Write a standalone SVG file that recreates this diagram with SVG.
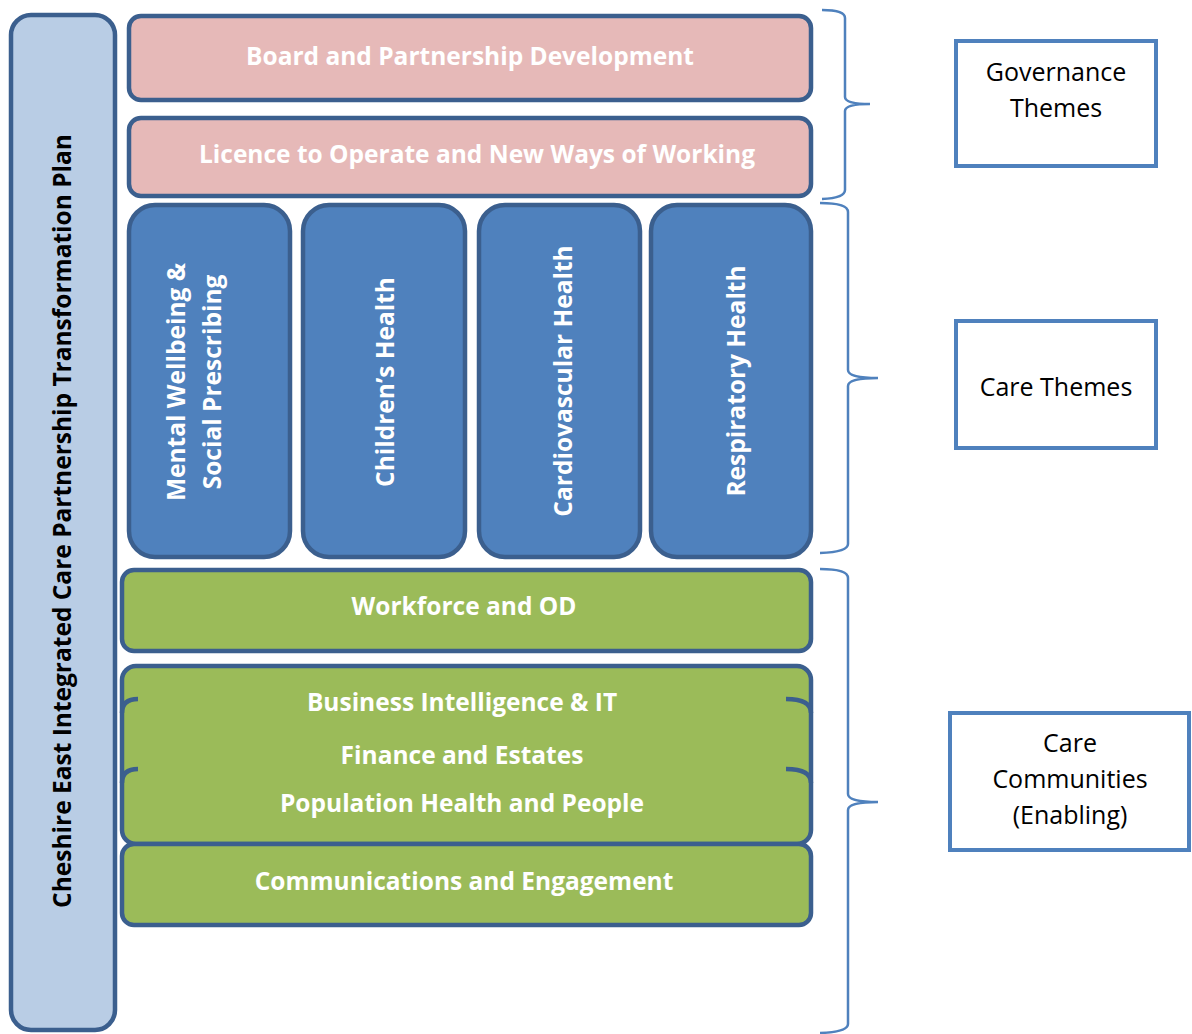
<svg xmlns="http://www.w3.org/2000/svg" width="1192" height="1034" viewBox="0 0 1192 1034">
  <style>
    .frame { stroke: #3B5F8E; stroke-width: 4.5; }
    .plan { fill: #B9CDE5; }
    .gov { fill: #E6B9B8; }
    .care { fill: #4F81BD; }
    .enab { fill: #9BBB59; }
    .lbl { font-family: "Open Sans", "Liberation Sans", sans-serif; font-weight: bold; font-size: 24.5px; fill: #FFFFFF; text-anchor: middle; }
    .vlbl { font-family: "Open Sans", "Liberation Sans", sans-serif; font-weight: bold; font-size: 24.5px; fill: #FFFFFF; text-anchor: middle; }
    .dark { fill: #000000; }
    .key { fill: #FFFFFF; stroke: #4F81BD; stroke-width: 4; }
    .keytxt { font-family: "Open Sans", "Liberation Sans", sans-serif; font-size: 25px; fill: #000000; text-anchor: middle; }
    .brace { fill: none; stroke: #4F81BD; stroke-width: 2.5; }
    .frag { fill: none; stroke: #3B5F8E; stroke-width: 4.5; }
  </style>

  <!-- overall plan bar -->
  <g id="plan">
    <rect class="plan frame" x="11" y="15" width="104" height="1015" rx="20"/>
    <text class="vlbl dark" transform="translate(71,521) rotate(-90)">Cheshire East Integrated Care Partnership Transformation Plan</text>
  </g>

  <!-- governance themes -->
  <g id="board">
    <rect class="gov frame" x="129" y="16" width="682" height="84" rx="12"/>
    <text class="lbl" x="470" y="65">Board and Partnership Development</text>
  </g>
  <g id="licence">
    <rect class="gov frame" x="129" y="118" width="682" height="78" rx="12"/>
    <text class="lbl" x="477" y="163">Licence to Operate and New Ways of Working</text>
  </g>

  <!-- care themes -->
  <g id="mental">
    <rect class="care frame" x="129" y="205" width="161" height="352" rx="26"/>
    <text class="vlbl" transform="translate(185,382) rotate(-90)">Mental Wellbeing &amp;</text>
    <text class="vlbl" transform="translate(221,382) rotate(-90)">Social Prescribing</text>
  </g>
  <g id="children">
    <rect class="care frame" x="303" y="205" width="162" height="352" rx="26"/>
    <text class="vlbl" transform="translate(394,382) rotate(-90)">Children’s Health</text>
  </g>
  <g id="cardio">
    <rect class="care frame" x="479" y="205" width="161" height="352" rx="26"/>
    <text class="vlbl" transform="translate(572,381) rotate(-90)">Cardiovascular Health</text>
  </g>
  <g id="respiratory">
    <rect class="care frame" x="651" y="205" width="160" height="352" rx="26"/>
    <text class="vlbl" transform="translate(745,381) rotate(-90)">Respiratory Health</text>
  </g>

  <!-- enabling care communities -->
  <g id="workforce">
    <rect class="enab frame" x="122" y="570" width="689" height="81" rx="12"/>
    <text class="lbl" x="464" y="615">Workforce and OD</text>
  </g>
  <g id="bi">
    <rect class="enab frame" x="122" y="666" width="689" height="178" rx="14"/>
    <text class="lbl" x="462" y="711">Business Intelligence &amp; IT</text>
  </g>
  <g id="finance">
    <path class="frag" d="M122 713 Q122 699 138 699 M786 699 Q811 699 811 713"/>
    <text class="lbl" x="462" y="764">Finance and Estates</text>
  </g>
  <g id="population">
    <path class="frag" d="M122 783 Q122 769 138 769 M786 769 Q811 769 811 783"/>
    <text class="lbl" x="462" y="812">Population Health and People</text>
  </g>
  <g id="comms">
    <rect class="enab frame" x="122" y="844" width="689" height="81" rx="12"/>
    <text class="lbl" x="464" y="890">Communications and Engagement</text>
  </g>

  <!-- braces -->
  <g id="connectors">
    <path class="brace" d="M822 10 Q845 10 845 18 L845 97 Q845 104 870 104 Q845 104 845 111 L845 190 Q845 198 822 199"/>
    <path class="brace" d="M820 203 Q848 203 848 212 L848 370 Q848 378 878 378 Q848 378 848 386 L848 544 Q848 552 820 553"/>
    <path class="brace" d="M820 569 Q848 569 848 578 L848 794 Q848 802 878 802 Q848 802 848 810 L848 1024 Q848 1032 820 1033"/>
  </g>

  <!-- key boxes -->
  <g id="key-governance">
    <rect class="key" x="956" y="41" width="200" height="125"/>
    <text class="keytxt" x="1056" y="81">Governance</text>
    <text class="keytxt" x="1056" y="117">Themes</text>
  </g>
  <g id="key-care">
    <rect class="key" x="956" y="321" width="200" height="127"/>
    <text class="keytxt" x="1056" y="396">Care Themes</text>
  </g>
  <g id="key-communities">
    <rect class="key" x="950" y="713" width="239" height="137"/>
    <text class="keytxt" x="1070" y="752">Care</text>
    <text class="keytxt" x="1070" y="788">Communities</text>
    <text class="keytxt" x="1070" y="824">(Enabling)</text>
  </g>
</svg>
